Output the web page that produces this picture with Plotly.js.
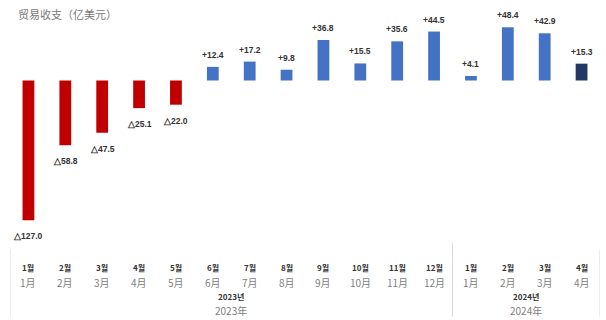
<!DOCTYPE html>
<html><head><meta charset="utf-8">
<script src="https://cdn.plot.ly/plotly-3.0.1.min.js"></script>
<style>html,body{margin:0;padding:0;background:#fff}</style>
</head><body><div id="chart" style="width:606px;height:320px"></div>
<script>
const monthsKo = ["1월","2월","3월","4월","5월","6월","7월","8월","9월","10월","11월","12월","1월","2월","3월","4월"];
const monthsZh = ["1月","2月","3月","4月","5月","6月","7月","8月","9月","10月","11月","12月","1月","2月","3月","4月"];
const values = [-127.0,-58.8,-47.5,-25.1,-22.0,12.4,17.2,9.8,36.8,15.5,35.6,44.5,4.1,48.4,42.9,15.3];
const yearsKo = ["2023년","2024년"];
const yearsZh = ["2023年","2024年"];
const yearStart = [0,12];
const yearEnd = [11,15];

const idx = values.map((v,i)=>i);
const colors = values.map((v,i)=> v<0 ? "#C00000" : (i===values.length-1 ? "#1F3864" : "#4472C4"));
const labels = values.map(v=> v<0 ? "△"+Math.abs(v).toFixed(1) : "+"+v.toFixed(1));

const trace = {
  type:"bar", x: idx, y: values, marker:{color:colors},
  hoverinfo:"none", width:0.32
};

const ann = [];
const vfont = {family:"Liberation Sans, Arial, sans-serif", size:8.5, color:"#333333", weight:"bold"};
const kfont = {family:"Noto Sans CJK KR", size:8, color:"#333333", weight:"bold"};
const zfont = {family:"Noto Sans CJK SC", size:10, color:"#808080"};
idx.forEach(i=>{
  ann.push({x:i, y:values[i], xref:"x", yref:"y", text:labels[i], showarrow:false, font:vfont,
    yanchor:"middle", yshift: values[i]<0 ? -16 : 12});
  ann.push({x:i, y:-0.184, xref:"x", yref:"paper", text:"<b>"+monthsKo[i]+"</b>", showarrow:false, font:kfont, yanchor:"middle"});
  ann.push({x:i, y:-0.256, xref:"x", yref:"paper", text:monthsZh[i], showarrow:false, font:zfont, yanchor:"middle"});
});
yearsKo.forEach((t,j)=>{
  const c = (yearStart[j]+yearEnd[j])/2;
  ann.push({x:c, y:-0.323, xref:"x", yref:"paper", text:"<b>"+t+"</b>", showarrow:false, font:kfont, yanchor:"middle"});
  ann.push({x:c, y:-0.39, xref:"x", yref:"paper", text:yearsZh[j], showarrow:false, font:zfont, yanchor:"middle"});
});

const lineStyle = {color:"#d9d9d9", width:1};
const shapes = [
  {type:"line", xref:"x", yref:"paper", x0:-0.5, x1:-0.5, y0:-0.098, y1:-0.42, line:lineStyle},
  {type:"line", xref:"x", yref:"paper", x0:11.5, x1:11.5, y0:-0.065, y1:-0.42, line:lineStyle},
  {type:"line", xref:"x", yref:"paper", x0:15.5, x1:15.5, y0:-0.098, y1:-0.42, line:lineStyle}
];

const layout = {
  width:606, height:320,
  margin:{l:10, r:6, t:20, b:91},
  paper_bgcolor:"#fff", plot_bgcolor:"#fff",
  showlegend:false,
  title:{text:"贸易收支（亿美元）", x:18/606, xanchor:"left", xref:"container", y:1-15/320, yanchor:"middle", yref:"container",
    font:{family:"Noto Sans CJK SC", size:11, color:"#7a7a7a"}},
  xaxis:{range:[-0.5,15.5], showticklabels:false, showgrid:false, zeroline:false, showline:false, ticks:""},
  yaxis:{range:[-135,55], showticklabels:false, showgrid:false, zeroline:false, showline:false, ticks:""},
  annotations: ann, shapes: shapes
};
Plotly.newPlot("chart",[trace],layout,{staticPlot:true, displayModeBar:false});
</script></body></html>
